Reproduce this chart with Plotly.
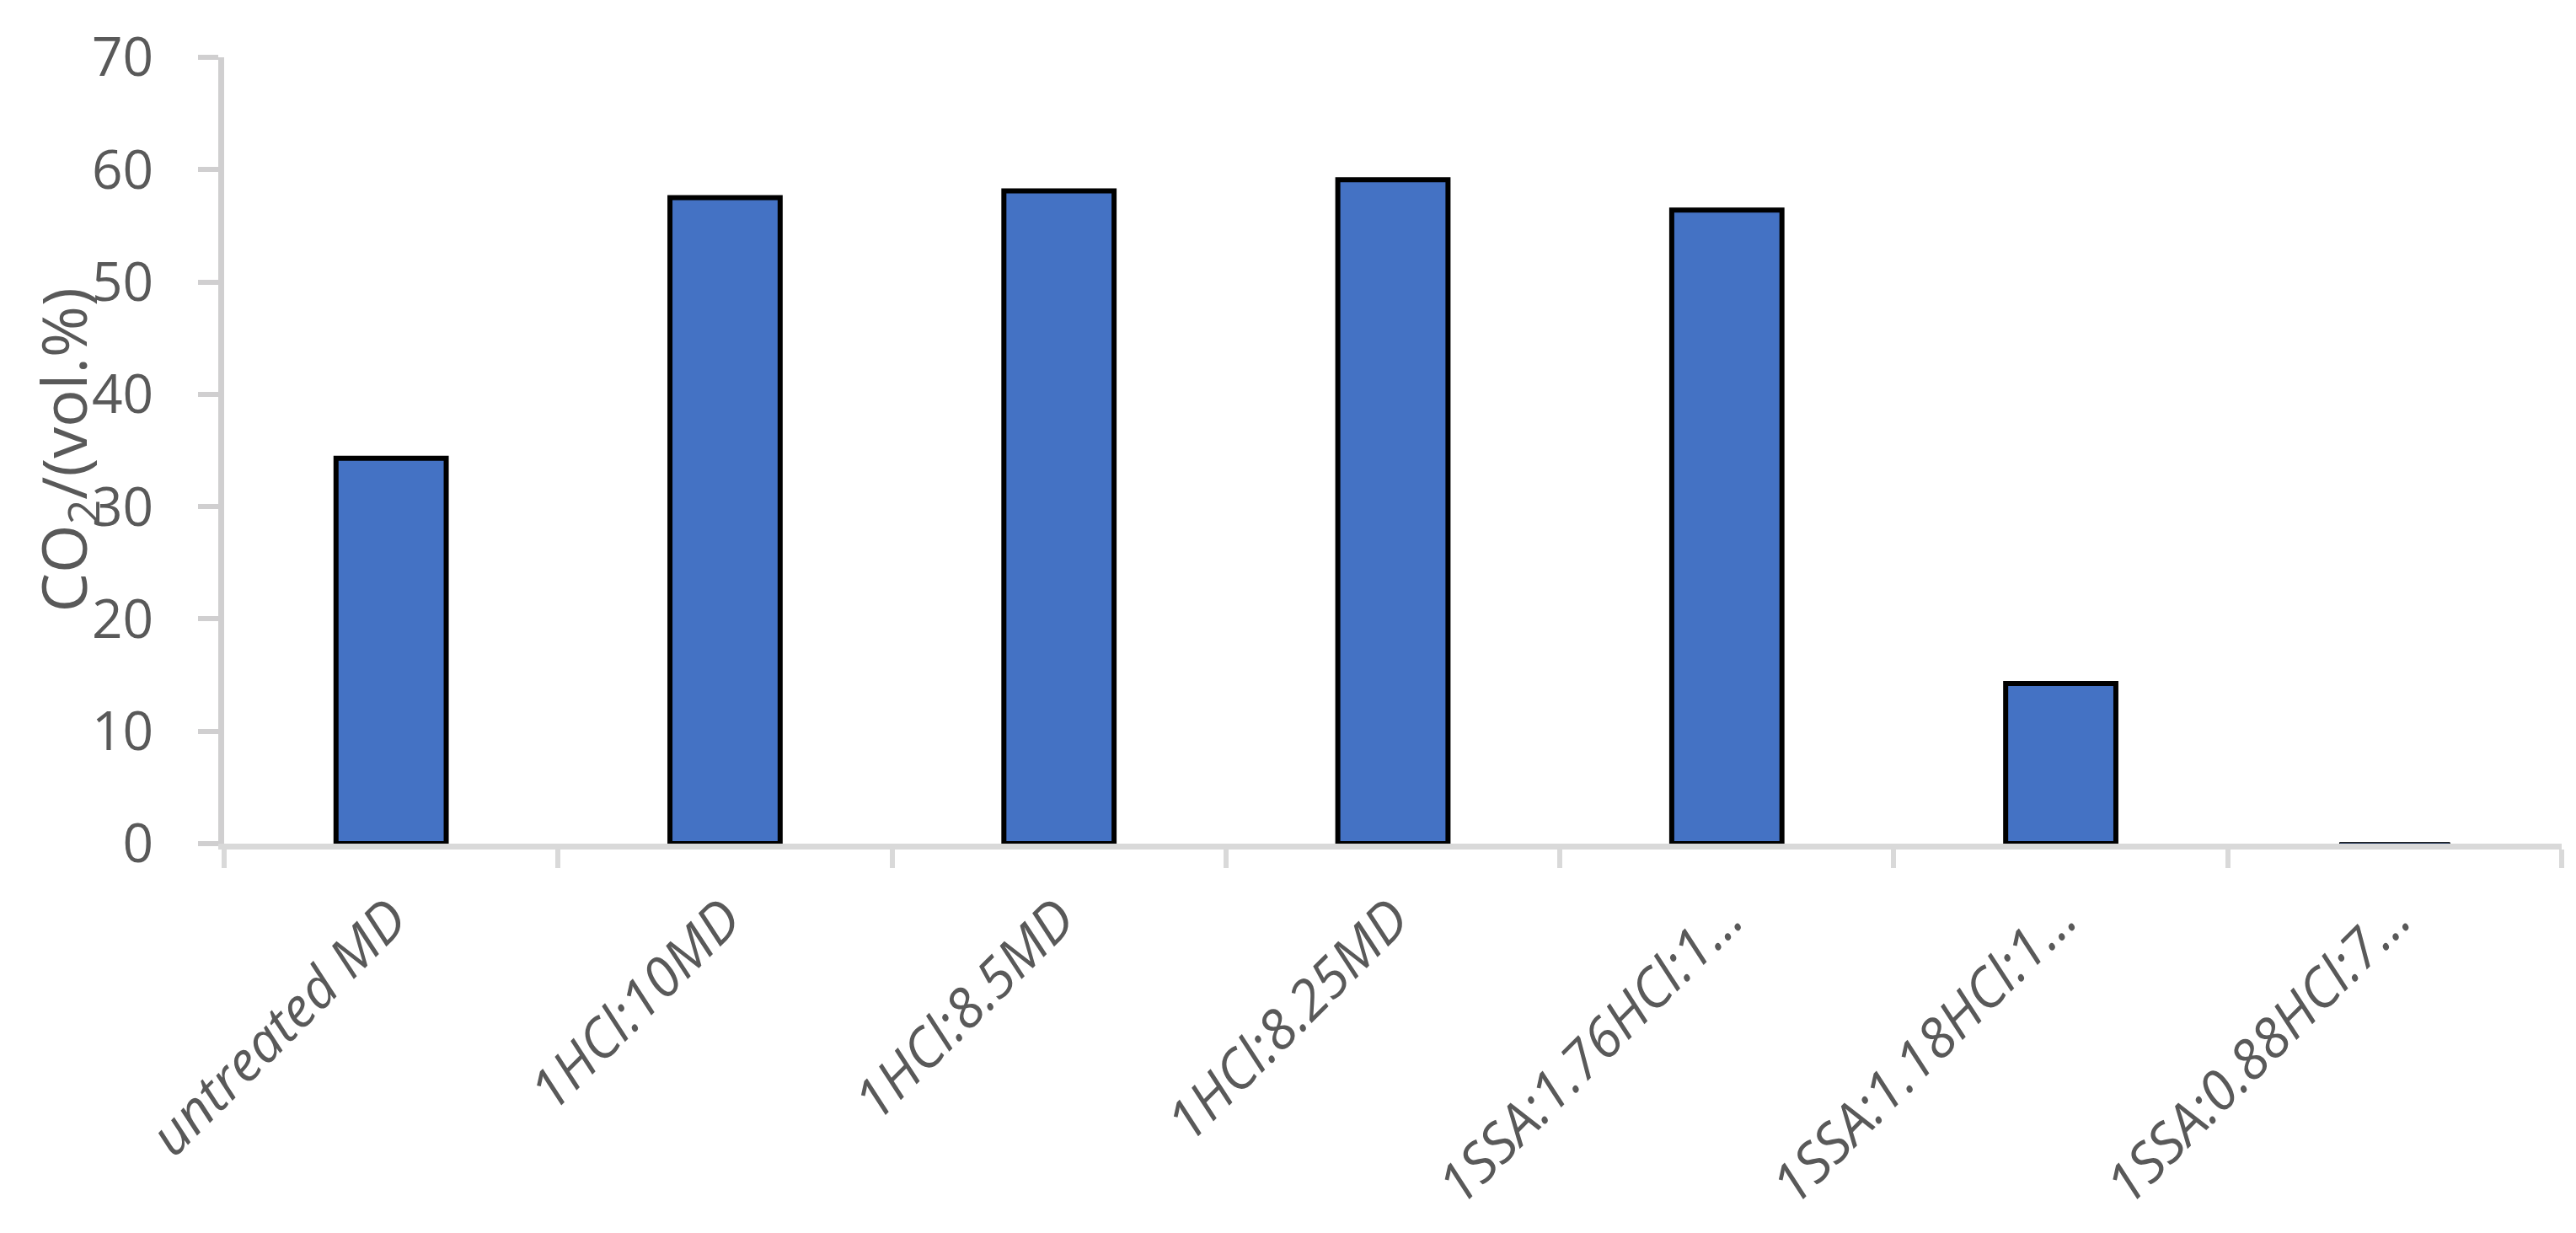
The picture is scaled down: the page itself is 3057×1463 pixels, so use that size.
import plotly.graph_objects as go

categories = ["untreated MD", "1HCl:10MD", "1HCl:8.5MD", "1HCl:8.25MD",
              "1SSA:1.76HCl:1…", "1SSA:1.18HCl:1…", "1SSA:0.88HCl:7…"]
co2_values = [34.3, 57.5, 58.1, 59.1, 56.4, 14.25, 0.1]
y_ticks = [0, 10, 20, 30, 40, 50, 60, 70]
y_title = "CO<sub>2</sub>/(vol.%)"

W, H = 3057, 1463
L, R, T, B = 258, 25, 60, 470
pw = W - L - R

outline_w = [6, 6, 6, 6, 6, 6, 1]

fig = go.Figure(go.Bar(
    x=categories, y=co2_values,
    marker=dict(color="#4472C4", line=dict(color="#000000", width=outline_w)),
))

fig.update_layout(
    width=W, height=H,
    margin=dict(l=L, r=R, t=T, b=B, autoexpand=False),
    paper_bgcolor="white", plot_bgcolor="white",
    bargap=0.67, showlegend=False,
    font=dict(family="Open Sans", color="#595959"),
)

fig.update_xaxes(
    type="category",
    showline=True, linecolor="#D9D9D9", linewidth=7,
    ticks="outside", tickson="boundaries", ticklen=22, tickwidth=6, tickcolor="#D9D9D9",
    tickangle=-45, ticklabelstandoff=18,
    tickfont=dict(family="Open Sans", size=65, color="#595959", style="italic"),
    showgrid=False, zeroline=False, automargin=False,
)

fig.update_yaxes(
    range=[0, 70], tickvals=y_ticks,
    showline=True, linecolor="#D0CFD0", linewidth=7,
    ticks="outside", ticklen=24, tickwidth=6, tickcolor="#D0CFD0",
    ticklabelstandoff=40,
    tickfont=dict(family="Open Sans", size=64, color="#595959"),
    showgrid=False, zeroline=False, automargin=False,
)

fig.add_annotation(
    text=y_title, textangle=-90,
    xref="paper", yref="y",
    x=(70 - L) / pw, y=35,
    xanchor="center", yanchor="middle",
    showarrow=False,
    font=dict(family="Open Sans", size=74, color="#595959"),
)

fig.write_html("out.html")
